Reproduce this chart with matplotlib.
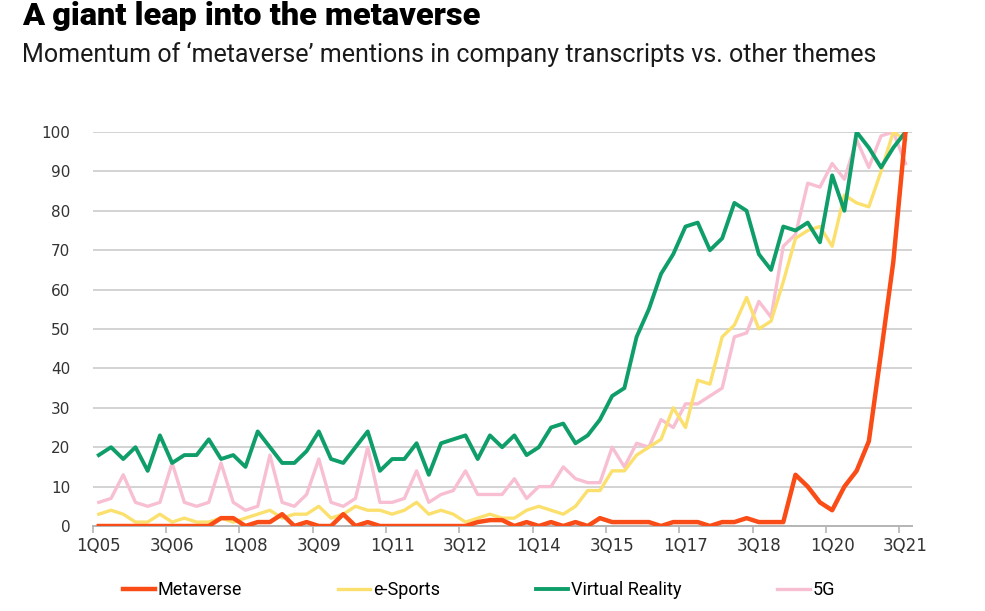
"""Momentum of 'metaverse' mentions in company transcripts vs. other themes."""

import matplotlib.pyplot as plt
import numpy as np
from matplotlib.ticker import FixedLocator

# quarterly index values, 1Q05 .. 3Q21
metaverse = [0, 0, 0, 0, 0, 0, 0, 0, 0, 0,
             2, 2, 0, 1, 1, 3, 0, 1, 0, 0,
             3, 0, 1, 0, 0, 0, 0, 0, 0, 0,
             0, 1, 1.5, 1.5, 0, 1, 0, 1, 0, 1,
             0, 2, 1, 1, 1, 1, 0, 1, 1, 1,
             0, 1, 1, 2, 1, 1, 1, 13, 10, 6,
             4, 10, 14, 21.5, 44, 67, 100]
e_sports = [3, 4, 3, 1, 1, 3, 1, 2, 1, 1,
            2, 1, 2, 3, 4, 2, 3, 3, 5, 2,
            3, 5, 4, 4, 3, 4, 6, 3, 4, 3,
            1, 2, 3, 2, 2, 4, 5, 4, 3, 5,
            9, 9, 14, 14, 18, 20, 22, 30, 25, 37,
            36, 48, 51, 58, 50, 52, 62, 73, 75, 76,
            71, 84, 82, 81, 90, 100, 98]
virtual_reality = [18, 20, 17, 20, 14, 23, 16, 18, 18, 22,
                   17, 18, 15, 24, 20, 16, 16, 19, 24, 17,
                   16, 20, 24, 14, 17, 17, 21, 13, 21, 22,
                   23, 17, 23, 20, 23, 18, 20, 25, 26, 21,
                   23, 27, 33, 35, 48, 55, 64, 69, 76, 77,
                   70, 73, 82, 80, 69, 65, 76, 75, 77, 72,
                   89, 80, 100, 96, 91, 96, 100]
five_g = [6, 7, 13, 6, 5, 6, 16, 6, 5, 6,
          16, 6, 4, 5, 18, 6, 5, 8, 17, 6,
          5, 7, 20, 6, 6, 7, 14, 6, 8, 9,
          14, 8, 8, 8, 12, 7, 10, 10, 15, 12,
          11, 11, 20, 15, 21, 20, 27, 25, 31, 31,
          33, 35, 48, 49, 57, 53, 71, 74, 87, 86,
          92, 88, 98, 91, 99, 100, 92]

quarters = [f"{q}Q{y % 100:02d}" for y in range(2005, 2022) for q in range(1, 5)][:67]
tick_labels = quarters[::6]

y_ticks = list(range(0, 101, 10))


def main():
    fig = plt.figure(figsize=(9.85, 6.11), dpi=100)
    ax = fig.add_axes([0.0941, 0.1391, 0.8314, 0.6449])

    xs = np.arange(len(quarters))

    # drawn bottom to top
    ax.plot(xs, five_g, color="#F8BFD2", lw=2.4, label="5G", zorder=3)
    ax.plot(xs, e_sports, color="#FBE06E", lw=2.4, label="e-Sports", zorder=4)
    ax.plot(xs, virtual_reality, color="#0F9E6A", lw=2.8,
            label="Virtual Reality", zorder=5)
    ax.plot(xs, metaverse, color="#FA4C16", lw=3.2, label="Metaverse", zorder=6)

    ax.set_xlim(-0.5, len(quarters) - 0.5)
    ax.set_ylim(0, 100)

    # labels sit on the data points, tick marks between quarters
    ax.set_xticks(xs[::6])
    ax.set_xticklabels(tick_labels)
    ax.xaxis.set_minor_locator(FixedLocator(xs[::6] - 0.5))
    ax.tick_params(axis="x", which="major", length=0, pad=8,
                   labelsize=12, labelcolor="#333333")
    ax.tick_params(axis="x", which="minor", length=5, width=1.2,
                   color="#B5B5B5")

    ax.set_yticks(y_ticks)
    ax.tick_params(axis="y", length=0, pad=16, labelsize=11,
                   labelcolor="#333333")
    ax.yaxis.grid(True, color="#D3D3D3", lw=1.4)
    ax.set_axisbelow(True)

    for side in ("left", "right", "top"):
        ax.spines[side].set_visible(False)
    ax.spines["bottom"].set_color("#B5B5B5")
    ax.spines["bottom"].set_linewidth(1.4)

    handles, labels = ax.get_legend_handles_labels()
    order = [3, 1, 2, 0]
    fig.legend([handles[i] for i in order], [labels[i] for i in order],
               loc="center", bbox_to_anchor=(0.486, 0.034), ncol=4,
               frameon=False, handlelength=1.8, handletextpad=0.15,
               columnspacing=5.3,
               prop={"family": "Roboto", "size": 13})

    fig.text(0.0223, 0.959, "A giant leap into the metaverse",
             family="Roboto", weight="black", size=23.4, va="baseline")
    fig.text(0.0223, 0.8985,
             "Momentum of \u2018metaverse\u2019 mentions in company transcripts vs. other themes",
             family="Roboto", weight="normal", size=18, va="baseline",
             color="#1A1A1A")

    fig.savefig("out.png", dpi=100)


if __name__ == "__main__":
    main()
